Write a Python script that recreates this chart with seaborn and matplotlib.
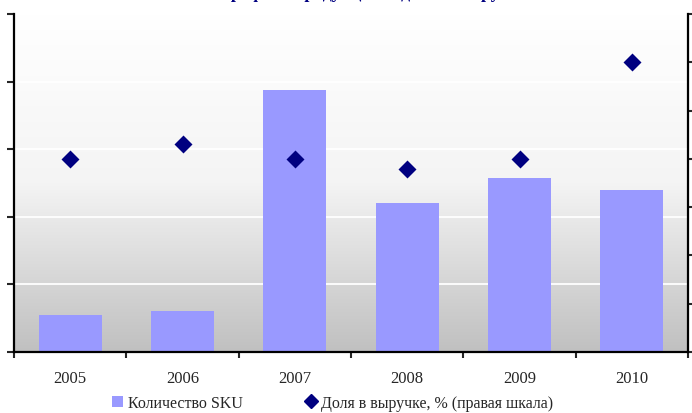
import numpy as np
import pandas as pd
import matplotlib
matplotlib.use("Agg")
import matplotlib.pyplot as plt
from matplotlib.colors import LinearSegmentedColormap
from matplotlib.patches import Patch
from matplotlib.lines import Line2D
import seaborn as sns

# --- data ---
years = ["2005", "2006", "2007", "2008", "2009", "2010"]
sku_count = [27, 30, 194, 110, 129, 120]          # left axis
revenue_share = [20, 21.5, 20, 19, 20, 30]         # right axis, %

bar_color = "#9999ff"
point_color = "#000080"

sns.set_style("white")
plt.rcParams["font.family"] = ["Liberation Serif", "DejaVu Sans"]

df = pd.DataFrame({"year": years, "sku": sku_count, "share": revenue_share})

fig = plt.figure(figsize=(6.92, 4.14), dpi=100)
ax = fig.add_axes([14 / 692, 61 / 414, 674 / 692, 338 / 414])

# gradient background (white on top, grey at bottom)
grad = np.linspace(0, 1, 256).reshape(-1, 1)
cmap = LinearSegmentedColormap.from_list("bg", ["#ffffff", "#f4f4f4", "#c0c0c0"])
ax.imshow(grad, extent=[-0.5, 5.5, 0, 250], aspect="auto", cmap=cmap,
          origin="upper", zorder=0)

sns.barplot(data=df, x="year", y="sku", color=bar_color, width=0.56,
            saturation=1, edgecolor="none", linewidth=0, ax=ax, zorder=2)

ax.set_xlim(-0.5, 5.5)
ax.set_ylim(0, 250)
ax.set_yticks(np.arange(0, 251, 50))
for yv in [50, 100, 150, 200]:
    ax.axhline(yv, color="white", lw=1.3, zorder=1)
ax.set_xlabel("")
ax.set_ylabel("")
ax.tick_params(axis="y", direction="out", length=5, width=1.5, labelleft=False, left=True)
ax.set_xticks(np.arange(-0.5, 6, 1), minor=True)
ax.tick_params(axis="x", which="minor", direction="out", length=4, width=1.5, bottom=True)
ax.tick_params(axis="x", which="major", length=0, labelsize=12, pad=13)
for s in ["top", "right"]:
    ax.spines[s].set_visible(False)
for s in ["left", "bottom"]:
    ax.spines[s].set_linewidth(1.6)
    ax.spines[s].set_color("black")

# right axis with the revenue share
ax2 = ax.twinx()
sns.pointplot(data=df, x="year", y="share", color=point_color, markers="D",
              linestyle="none", markersize=7, ax=ax2)
ax2.set_xlim(-0.5, 5.5)
ax2.set_ylim(0, 35)
ax2.set_yticks(np.arange(0, 36, 5))
ax2.set_ylabel("")
ax2.set_xlabel("")
ax2.tick_params(axis="y", direction="out", length=5, width=1.5, labelright=False, right=True)
for s in ["top", "left", "bottom"]:
    ax2.spines[s].set_visible(False)
ax2.spines["right"].set_linewidth(1.6)
ax2.spines["right"].set_color("black")

# title: like the reference, it sits almost entirely above the top edge
fig.text(368 / 692, 1 + 2 / 414, "Портфель продукции и доля в выручке",
         ha="center", va="baseline", fontsize=13, fontweight="bold", color=point_color)

handles = [
    Patch(facecolor=bar_color, edgecolor="none", label="Количество SKU"),
    Line2D([], [], marker="D", color=point_color, linestyle="none", markersize=7,
           label="Доля в выручке, % (правая шкала)"),
]
fig.legend(handles=handles, loc="center", bbox_to_anchor=(0.481, 1 - 404 / 414), ncol=2,
           frameon=False, fontsize=11.5, handlelength=0.7, handletextpad=0.3,
           columnspacing=3.9)

fig.savefig("out.png", dpi=100)
